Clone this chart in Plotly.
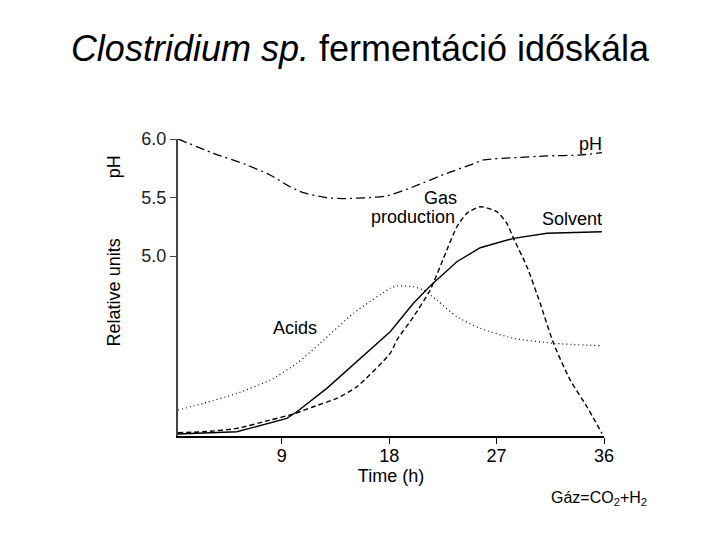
import plotly.graph_objects as go

# Time (h) and values (shared pH / relative-units scale)
ph_t = [0.3, 3.27, 6.07, 8.02, 9.70, 10.79, 12.77, 14.17, 16.4, 17.8, 20.03, 22.83, 24.79, 25.9, 28.42, 31.2, 34.0, 35.83]
ph_v = [6.0, 5.878, 5.778, 5.692, 5.592, 5.541, 5.498, 5.491, 5.5, 5.513, 5.592, 5.707, 5.778, 5.821, 5.840, 5.855, 5.863, 5.883]

solv_t = [0.3, 5.23, 9.42, 10.26, 12.77, 15.57, 18.08, 20.03, 21.43, 23.67, 25.63, 28.42, 31.22, 35.83]
solv_v = [3.479, 3.498, 3.613, 3.669, 3.869, 4.126, 4.353, 4.596, 4.744, 4.951, 5.071, 5.151, 5.194, 5.208]

gas_t = [0.3, 2.43, 5.23, 8.02, 9.97, 11.65, 13.61, 15.29, 18.08, 18.64, 20.03, 21.43, 22.83, 23.67, 24.51, 25.63,
         27.02, 27.86, 28.42, 29.54, 30.65, 31.77, 33.17, 34.57, 35.83]
gas_v = [3.490, 3.498, 3.527, 3.598, 3.650, 3.712, 3.784, 3.883, 4.168, 4.282, 4.481, 4.709, 5.051, 5.250, 5.365, 5.421,
         5.379, 5.279, 5.151, 4.909, 4.596, 4.254, 3.940, 3.712, 3.485]

acid_t = [0.3, 2.43, 5.23, 8.02, 10.26, 12.21, 15.0, 18.08, 18.64, 20.03, 20.87, 21.99, 23.67, 25.63, 28.42, 31.77, 35.83]
acid_v = [3.684, 3.741, 3.826, 3.940, 4.083, 4.254, 4.510, 4.724, 4.744, 4.738, 4.709, 4.624, 4.481, 4.382, 4.297, 4.254, 4.233]

x_ticks = [9, 18, 27, 36]
y_ticks = [5.0, 5.5, 6.0]
y_ticktext = ["5.0", "5.5", "6.0"]

FONT = "Liberation Sans, Arial, sans-serif"

fig = go.Figure()
fig.add_trace(go.Scatter(x=ph_t, y=ph_v, mode="lines",
                         line=dict(color="black", width=1.3, dash="9px,4px,2px,4px", shape="spline", smoothing=0.6), name="pH"))
fig.add_trace(go.Scatter(x=solv_t, y=solv_v, mode="lines", line=dict(color="black", width=1.4, shape="linear"), name="Solvent"))
fig.add_trace(go.Scatter(x=gas_t, y=gas_v, mode="lines",
                         line=dict(color="black", width=1.4, dash="5px,3px", shape="spline", smoothing=0.6), name="Gas production"))
fig.add_trace(go.Scatter(x=acid_t, y=acid_v, mode="lines",
                         line=dict(color="black", width=1.2, dash="1px,3px", shape="spline", smoothing=0.6), name="Acids"))

labels = [
    (36.0, 5.96, "pH", "right"),
    (22.3, 5.5, "Gas", "center"),
    (20.0, 5.33, "production", "center"),
    (36.0, 5.32, "Solvent", "right"),
    (10.1, 4.385, "Acids", "center"),
]
for x, y, t, al in labels:
    fig.add_annotation(x=x, y=y, text=t, showarrow=False, xanchor=al, yanchor="middle",
                       align="center", font=dict(family=FONT, size=18, color="black"))

# Y-axis titles
fig.add_annotation(xref="paper", yref="y", x=-0.15, y=5.76, text="pH", textangle=-90, showarrow=False,
                   xanchor="center", font=dict(family=FONT, size=18, color="black"))
fig.add_annotation(xref="paper", yref="y", x=-0.15, y=4.69, text="Relative units", textangle=-90, showarrow=False,
                   xanchor="center", font=dict(family=FONT, size=18, color="black"))

# Footnote
fig.add_annotation(xref="paper", yref="paper", x=1.105, y=-0.21, text="Gáz=CO<sub>2</sub>+H<sub>2</sub>",
                   showarrow=False, xanchor="right", yanchor="middle", font=dict(family=FONT, size=16, color="black"))

fig.update_layout(
    width=720, height=540,
    paper_bgcolor="white", plot_bgcolor="white",
    margin=dict(l=178, r=116, t=139, b=104),
    showlegend=False,
    title=dict(text="<i>Clostridium sp.</i> fermentáció időskála", x=0.5, xanchor="center",
               y=0.91, yanchor="middle", font=dict(family=FONT, size=36, color="black")),
    font=dict(family=FONT, color="black"),
)
fig.update_xaxes(range=[0.3, 36], showgrid=False, zeroline=False, showline=True, linecolor="black", linewidth=1.6,
                 tickmode="array", tickvals=x_ticks, ticks="outside", ticklen=6, tickwidth=1.4, tickcolor="black",
                 ticklabelstandoff=-3,
                 tickfont=dict(family=FONT, size=18, color="black"),
                 title=dict(text="Time (h)", font=dict(family=FONT, size=18, color="black"), standoff=0))
fig.update_yaxes(range=[3.462, 6.0], showgrid=False, zeroline=False, showline=True, linecolor="#444", linewidth=2.2,
                 tickmode="array", tickvals=y_ticks, ticktext=y_ticktext, ticks="outside", ticklen=6, tickwidth=1.4,
                 tickcolor="#444", tickfont=dict(family=FONT, size=18, color="#222"))

fig.write_html("out.html")
